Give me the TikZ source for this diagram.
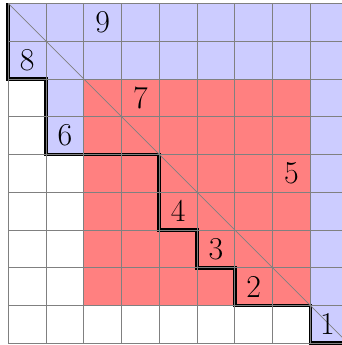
\documentclass[tikz,border=0pt]{standalone}
\begin{document}
\begin{tikzpicture}[x=1cm,y=1cm,
  bluecell/.style={fill=blue!20},
  redcell/.style={fill=red!50},
  gridline/.style={gray,line width=0.6pt},
  diag/.style={gray,line width=0.5pt},
  stair/.style={black,line width=2.8pt,line join=miter},
  num/.style={font=\fontsize{24}{28}\selectfont,inner sep=0pt}]
\useasboundingbox (-0.219,-0.045) rectangle (8.816,9.09);
% fills
\fill[bluecell] (0,7) rectangle (9,9);
\fill[bluecell] (1,5) rectangle (2,7);
\fill[bluecell] (8,0) rectangle (9,7);
\fill[redcell] (2,1) rectangle (8,7);
% staircase
\draw[stair] (0,9) -- (0,7) -- (1,7) -- (1,5) -- (4,5) -- (4,3) -- (5,3) -- (5,2) -- (6,2) -- (6,1) -- (8,1) -- (8,0) -- (9,0);
% grid
\draw[gridline] (0,0) grid (9,9);
% diagonal
\draw[diag] (0,9) -- (9,0);
% labels
\node[num] (n9) at (2.5,8.5) {9};
\node[num] (n8) at (0.5,7.5) {8};
\node[num] (n7) at (3.5,6.5) {7};
\node[num] (n6) at (1.5,5.5) {6};
\node[num] (n5) at (7.5,4.5) {5};
\node[num] (n4) at (4.5,3.5) {4};
\node[num] (n3) at (5.5,2.5) {3};
\node[num] (n2) at (6.5,1.5) {2};
\node[num] (n1) at (8.45,0.5) {1};
\end{tikzpicture}
\end{document}
